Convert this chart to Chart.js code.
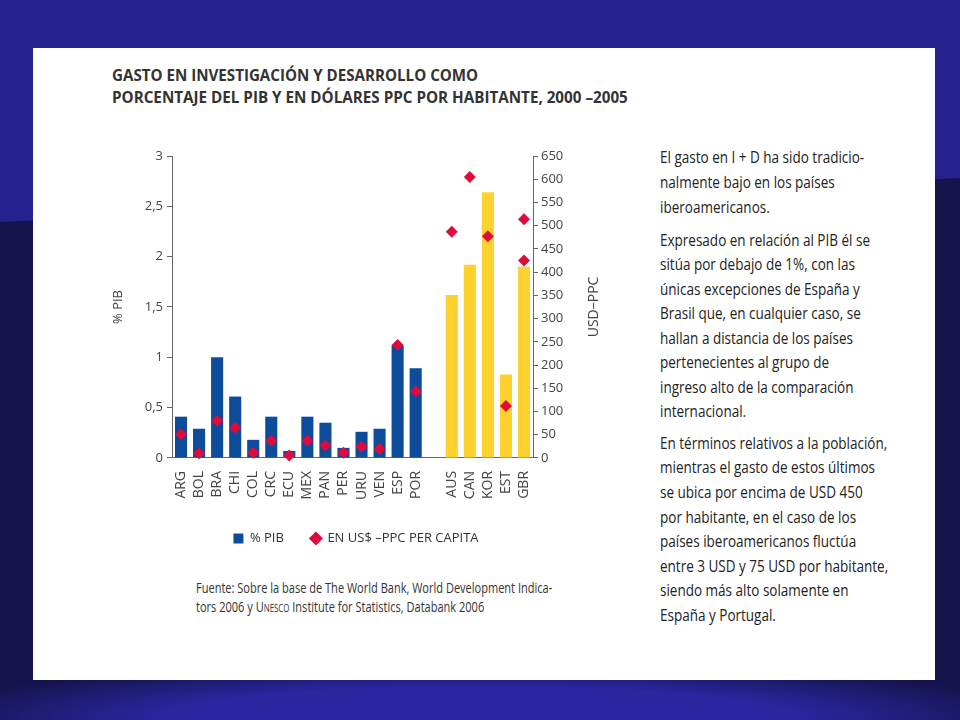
<!DOCTYPE html>
<html>
<head>
<meta charset="utf-8">
<script src="https://cdn.jsdelivr.net/npm/chart.js@4/dist/chart.umd.min.js"></script>
<style>
html, body { margin: 0; padding: 0; }
body { width: 960px; height: 720px; position: relative; overflow: hidden; background: #25218e; font-family: 'Open Sans', sans-serif; }
#dark { position: absolute; left: 0; top: 0; width: 960px; height: 720px; background: #15134b; clip-path: polygon(0 222px, 960px 178px, 960px 720px, 0 720px); }
#glow { position: absolute; left: 0; top: 660px; width: 960px; height: 60px; background: radial-gradient(ellipse 60% 100% at 50% 100%, #2a26a0 0%, #2a26a0 55%, rgba(42,38,160,0) 100%); }
#panel { position: absolute; left: 33px; top: 48px; width: 902px; height: 632px; background: #fff; }
.fit { position: absolute; white-space: nowrap; transform-origin: 0 50%; line-height: 20px; }
.title { font-weight: 700; font-size: 16px; color: #333; }
.side { font-size: 16px; color: #222; }
.src { font-size: 14px; color: #333; }
.sc { font-variant: small-caps; }
#wrap { position: absolute; left: 106px; top: 140px; width: 500px; height: 415px; }
</style>
</head>
<body>
<div id="dark"></div>
<div id="glow"></div>
<div id="panel"></div>

<div class="fit title" data-w="366" style="left:112px;top:65px">GASTO EN INVESTIGACIÓN Y DESARROLLO COMO</div>
<div class="fit title" data-w="516" style="left:112px;top:87px">PORCENTAJE DEL PIB Y EN DÓLARES PPC POR HABITANTE, 2000 –2005</div>

<div class="fit side" style="left:660px;top:147px">El gasto en I + D ha sido tradicio-</div>
<div class="fit side" style="left:660px;top:172px">nalmente bajo en los países</div>
<div class="fit side" style="left:660px;top:197px">iberoamericanos.</div>
<div class="fit side" style="left:660px;top:230px">Expresado en relación al PIB él se</div>
<div class="fit side" style="left:660px;top:254px">sitúa por debajo de 1%, con las</div>
<div class="fit side" style="left:660px;top:279px">únicas excepciones de España y</div>
<div class="fit side" style="left:660px;top:303px">Brasil que, en cualquier caso, se</div>
<div class="fit side" style="left:660px;top:328px">hallan a distancia de los países</div>
<div class="fit side" style="left:660px;top:352px">pertenecientes al grupo de</div>
<div class="fit side" style="left:660px;top:377px">ingreso alto de la comparación</div>
<div class="fit side" style="left:660px;top:401px">internacional.</div>
<div class="fit side" id="sideRef" data-w="227" style="left:660px;top:433px">En términos relativos a la población,</div>
<div class="fit side" style="left:660px;top:457px">mientras el gasto de estos últimos</div>
<div class="fit side" style="left:660px;top:482px">se ubica por encima de USD 450</div>
<div class="fit side" style="left:660px;top:507px">por habitante, en el caso de los</div>
<div class="fit side" style="left:660px;top:531px">países iberoamericanos fluctúa</div>
<div class="fit side" style="left:660px;top:556px">entre 3 USD y 75 USD por habitante,</div>
<div class="fit side" style="left:660px;top:580px">siendo más alto solamente en</div>
<div class="fit side" style="left:660px;top:605px">España y Portugal.</div>

<div class="fit src" id="srcRef" data-w="356" style="left:196px;top:578px">Fuente: Sobre la base de The World Bank, World Development Indica-</div>
<div class="fit src" style="left:196px;top:597px">tors 2006 y <span class="sc">Unesco</span> Institute for Statistics, Databank 2006</div>

<div id="wrap"><canvas id="chart" width="500" height="415"></canvas></div>

<script>
const labels = ['ARG', 'BOL', 'BRA', 'CHI', 'COL', 'CRC', 'ECU', 'MEX', 'PAN', 'PER', 'URU', 'VEN', 'ESP', 'POR', '', 'AUS', 'CAN', 'KOR', 'EST', 'GBR'];
const pibIbero = [0.41, 0.29, 1.0, 0.61, 0.18, 0.41, 0.07, 0.41, 0.35, 0.10, 0.26, 0.29, 1.12, 0.89, null, null, null, null, null, null];
const pibOcde = [null, null, null, null, null, null, null, null, null, null, null, null, null, null, null, 1.62, 1.92, 2.64, 0.83, 1.90];
const usdPpc = [51, 10, 80, 65, 11, 37, 5, 37, 27, 11, 24, 19, 243, 143, null, 487, 605, 477, 112, 514];
const usdPpcGbr = [null, null, null, null, null, null, null, null, null, null, null, null, null, null, null, null, null, null, null, 425];

// squeeze the html text to the widths of the condensed face in the picture
function fitGroup(sel, refId) {
    const ref = document.getElementById(refId);
    const k = ref.dataset.w / ref.offsetWidth;
    document.querySelectorAll(sel).forEach(el => el.style.transform = 'scaleX(' + k + ')');
}
document.querySelectorAll('.title').forEach(el => {
    el.style.transform = 'scaleX(' + (el.dataset.w / el.offsetWidth) + ')';
});
fitGroup('.side', 'sideRef');
fitGroup('.src', 'srcRef');

Chart.defaults.font.family = "'Open Sans', sans-serif";
Chart.defaults.color = '#444';

const rightTitle = {
    id: 'rightTitle',
    afterDraw(chart) {
        const s = chart.scales.y1;
        const ctx = chart.ctx;
        ctx.save();
        ctx.translate(s.right - 12, (s.top + s.bottom) / 2);
        ctx.rotate(-Math.PI / 2);
        ctx.font = "14px 'Open Sans'";
        ctx.fillStyle = '#444';
        ctx.textAlign = 'center';
        ctx.textBaseline = 'middle';
        ctx.fillText('USD–PPC', 0, 0);
        ctx.restore();
    }
};

const chart = new Chart(document.querySelector('#chart'), {
    type: 'bar',
    data: {
        labels,
        datasets: [
            {
                label: '% PIB',
                data: pibIbero,
                backgroundColor: '#0c4c9a',
                pointStyle: 'rect',
                yAxisID: 'y',
                order: 2
            },
            {
                label: 'OCDE',
                data: pibOcde,
                backgroundColor: '#fdd22f',
                pointStyle: 'rect',
                yAxisID: 'y',
                order: 2
            },
            {
                type: 'line',
                label: 'EN US$ –PPC PER CAPITA',
                data: usdPpc,
                showLine: false,
                pointStyle: 'rectRot',
                pointRadius: 6,
                backgroundColor: '#de0b3c',
                borderColor: '#de0b3c',
                borderWidth: 0,
                clip: false,
                yAxisID: 'y1',
                order: 1
            },
            {
                type: 'line',
                label: 'GBR',
                data: usdPpcGbr,
                showLine: false,
                pointStyle: 'rectRot',
                pointRadius: 6,
                backgroundColor: '#de0b3c',
                borderColor: '#de0b3c',
                borderWidth: 0,
                clip: false,
                yAxisID: 'y1',
                order: 1
            }
        ]
    },
    options: {
        responsive: false,
        animation: false,
        layout: { padding: { top: 16 } },
        datasets: {
            bar: { grouped: false, categoryPercentage: 1, barPercentage: 0.67 }
        },
        scales: {
            x: {
                grid: { display: false },
                border: { color: '#666' },
                ticks: { minRotation: 90, maxRotation: 90, autoSkip: false, padding: 5, font: { size: 14 }, color: '#444' }
            },
            y: {
                position: 'left',
                min: 0,
                max: 3,
                afterFit(s) { s.width = 66; },
                grid: { drawOnChartArea: false, tickLength: 5, color: '#666' },
                border: { color: '#666' },
                title: { display: true, text: '% PIB', font: { size: 13 }, color: '#444' },
                ticks: {
                    stepSize: 0.5,
                    padding: 4,
                    font: { size: 13 },
                    callback: v => String(v).replace('.', ',')
                }
            },
            y1: {
                position: 'right',
                min: 0,
                max: 650,
                afterFit(s) { s.width = 73; },
                grid: { drawOnChartArea: false, tickLength: 5, color: '#666' },
                border: { color: '#666' },
                ticks: { stepSize: 50, padding: 3, font: { size: 13 } }
            }
        },
        plugins: {
            legend: {
                position: 'bottom',
                labels: {
                    usePointStyle: true,
                    boxWidth: 10,
                    boxHeight: 10,
                    padding: 27,
                    color: '#333',
                    font: { size: 13 },
                    filter: item => item.datasetIndex === 0 || item.datasetIndex === 2,
                    sort: (a, b) => a.datasetIndex - b.datasetIndex
                }
            },
            tooltip: { enabled: false }
        }
    },
    plugins: [rightTitle]
});
</script>
</body>
</html>
